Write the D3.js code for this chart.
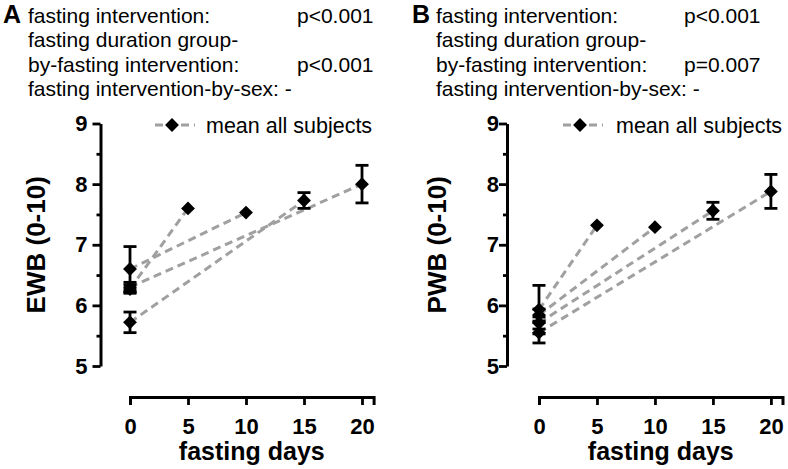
<!DOCTYPE html>
<html>
<head>
<meta charset="utf-8">
<script src="https://cdn.jsdelivr.net/npm/d3@7"></script>
<style>
  body { margin: 0; background: #fff; }
  text { font-family: "Liberation Sans", Arial, sans-serif; fill: #000; }
</style>
</head>
<body>
<div id="wrapper"></div>
<script>
// fasting duration groups (end day of each group)
const groupDays = [5, 10, 15, 20]
const xTicks = [0, 5, 10, 15, 20]
const yTicks = [5, 6, 7, 8, 9]
const yMinorTicks = [5.5, 6.5, 7.5, 8.5]

// panel A: EWB (0-10)
const ewbBase = [6.27, 6.60, 5.72, 6.30]
const ewbBaseErr = [0.07, 0.37, 0.17, 0.08]
const ewbEnd = [7.60, 7.53, 7.73, 8.00]
const ewbEndErr = [null, null, 0.13, 0.31]

// panel B: PWB (0-10)
const pwbBase = [5.93, 5.84, 5.71, 5.55]
const pwbBaseErr = [0.40, 0.10, 0.10, 0.17]
const pwbEnd = [7.32, 7.29, 7.56, 7.88]
const pwbEndErr = [null, null, 0.14, 0.28]

// header texts
const headerLines = [
  "fasting intervention:",
  "fasting duration group-",
  "by-fasting intervention:",
  "fasting intervention-by-sex: -"
]
const pValuesA = ["p<0.001", "", "p<0.001", ""]
const pValuesB = ["p<0.001", "", "p=0.007", ""]

const legendLabel = "mean all subjects"
const xLabel = "fasting days"

function drawChart() {
  const dimensions = {
    width: 788,
    height: 469,
    yTop: 123.5,
    yBottom: 366,
    xAxisY: 397
  }

  const svg = d3.select("#wrapper")
    .append("svg")
      .attr("width", dimensions.width)
      .attr("height", dimensions.height)

  const panels = [
    {
      letter: "A", yLabel: "EWB (0-10)",
      base: ewbBase, baseErr: ewbBaseErr, end: ewbEnd, endErr: ewbEndErr,
      pValues: pValuesA,
      letterX: 3, textX: 28, pX: 297,
      yAxisX: 100.5, yLabelX: 45, yTickPad: 5,
      xStart: 130, xEnd: 373.6,
      legendX: [155, 195], legendSym: 172, legendText: 206
    },
    {
      letter: "B", yLabel: "PWB (0-10)",
      base: pwbBase, baseErr: pwbBaseErr, end: pwbEnd, endErr: pwbEndErr,
      pValues: pValuesB,
      letterX: 412, textX: 436, pX: 684,
      yAxisX: 507, yLabelX: 446, yTickPad: 0,
      xStart: 539, xEnd: 782.5,
      legendX: [563, 603], legendSym: 580, legendText: 616
    }
  ]

  const diamond = d3.symbol().type(d3.symbolSquare).size(96)

  panels.forEach(p => {
    const g = svg.append("g")

    // header
    const header = g.append("g")
    header.append("text")
      .attr("x", p.letterX)
      .attr("y", 23)
      .style("font-size", "25px")
      .style("font-weight", "bold")
      .text(p.letter)
    headerLines.forEach((line, i) => {
      header.append("text")
        .attr("x", p.textX)
        .attr("y", 22.5 + i * 24.5)
        .style("font-size", "21px")
        .text(line)
      if (p.pValues[i]) {
        header.append("text")
          .attr("x", p.pX)
          .attr("y", 22.5 + i * 24.5)
          .style("font-size", "21px")
          .text(p.pValues[i])
      }
    })

    // scales
    const xScale = d3.scaleLinear()
      .domain([0, 21])
      .range([p.xStart, p.xEnd])
    const yScale = d3.scaleLinear()
      .domain([5, 9])
      .range([dimensions.yBottom, dimensions.yTop])

    // y axis
    const yAxis = g.append("g")
      .attr("transform", `translate(${p.yAxisX},0)`)
      .call(d3.axisLeft(yScale)
        .tickValues(yTicks)
        .tickFormat(d3.format("d"))
        .tickSize(8)
        .tickSizeOuter(0)
        .tickPadding(p.yTickPad))
    g.append("g")
      .attr("transform", `translate(${p.yAxisX},0)`)
      .call(d3.axisLeft(yScale)
        .tickValues(yMinorTicks)
        .tickSize(4)
        .tickSizeOuter(0)
        .tickFormat(""))
      .call(a => a.select(".domain").remove())
      .selectAll("line").attr("stroke-width", 2.8)
    yAxis.select(".domain").attr("stroke-width", 3)
    yAxis.selectAll("line").attr("stroke-width", 2.8)
    yAxis.selectAll("text")
      .attr("font-family", null)
      .attr("font-size", null)
      .style("font-size", "22px")
      .style("font-weight", "bold")

    g.append("text")
      .attr("transform", `translate(${p.yLabelX},${(dimensions.yTop + dimensions.yBottom) / 2}) rotate(-90)`)
      .attr("text-anchor", "middle")
      .style("font-size", "26px")
      .style("font-weight", "bold")
      .text(p.yLabel)

    // x axis
    const xAxis = g.append("g")
      .attr("transform", `translate(0,${dimensions.xAxisY})`)
      .call(d3.axisBottom(xScale)
        .tickValues(xTicks)
        .tickSize(8)
        .tickSizeOuter(8)
        .tickPadding(13))
    xAxis.select(".domain").attr("stroke-width", 3)
    xAxis.selectAll("line").attr("stroke-width", 2.8)
    xAxis.selectAll("text")
      .attr("font-family", null)
      .attr("font-size", null)
      .style("font-size", "22px")
      .style("font-weight", "bold")

    g.append("text")
      .attr("x", (p.xStart + p.xEnd) / 2)
      .attr("y", 460)
      .attr("text-anchor", "middle")
      .style("font-size", "25px")
      .style("font-weight", "bold")
      .text(xLabel)

    // legend
    g.append("line")
      .attr("x1", p.legendX[0]).attr("x2", p.legendX[1])
      .attr("y1", 125).attr("y2", 125)
      .attr("stroke", "#a0a0a0")
      .attr("stroke-width", 3)
      .attr("stroke-dasharray", "8,5")
    g.append("path")
      .attr("d", diamond())
      .attr("transform", `translate(${p.legendSym},125) rotate(45)`)
      .attr("fill", "#000")
    g.append("text")
      .attr("x", p.legendText)
      .attr("y", 125)
      .attr("dy", "0.35em")
      .style("font-size", "21.5px")
      .text(legendLabel)

    // data: one point pair per fasting duration group
    const points = []
    groupDays.forEach((day, i) => {
      points.push({ day: 0, value: p.base[i], err: p.baseErr[i] })
      points.push({ day, value: p.end[i], err: p.endErr[i] })
    })

    g.append("g")
      .selectAll("line")
      .data(groupDays)
      .join("line")
        .attr("x1", xScale(0))
        .attr("y1", (d, i) => yScale(p.base[i]))
        .attr("x2", d => xScale(d))
        .attr("y2", (d, i) => yScale(p.end[i]))
        .attr("stroke", "#a0a0a0")
        .attr("stroke-width", 3)
        .attr("stroke-dasharray", "8,5")

    const errGroups = g.append("g")
      .selectAll("g")
      .data(points.filter(d => d.err != null))
      .join("g")
        .attr("stroke", "#000")
        .attr("stroke-width", 2.8)
    errGroups.append("line")
      .attr("x1", d => xScale(d.day)).attr("x2", d => xScale(d.day))
      .attr("y1", d => yScale(d.value - d.err))
      .attr("y2", d => yScale(d.value + d.err))
    errGroups.append("line")
      .attr("x1", d => xScale(d.day) - 6.5).attr("x2", d => xScale(d.day) + 6.5)
      .attr("y1", d => yScale(d.value + d.err))
      .attr("y2", d => yScale(d.value + d.err))
    errGroups.append("line")
      .attr("x1", d => xScale(d.day) - 6.5).attr("x2", d => xScale(d.day) + 6.5)
      .attr("y1", d => yScale(d.value - d.err))
      .attr("y2", d => yScale(d.value - d.err))

    g.append("g")
      .selectAll("path")
      .data(points)
      .join("path")
        .attr("d", diamond())
        .attr("transform", d => `translate(${xScale(d.day)},${yScale(d.value)}) rotate(45)`)
        .attr("fill", "#000")
  })
}

drawChart()
</script>
</body>
</html>
